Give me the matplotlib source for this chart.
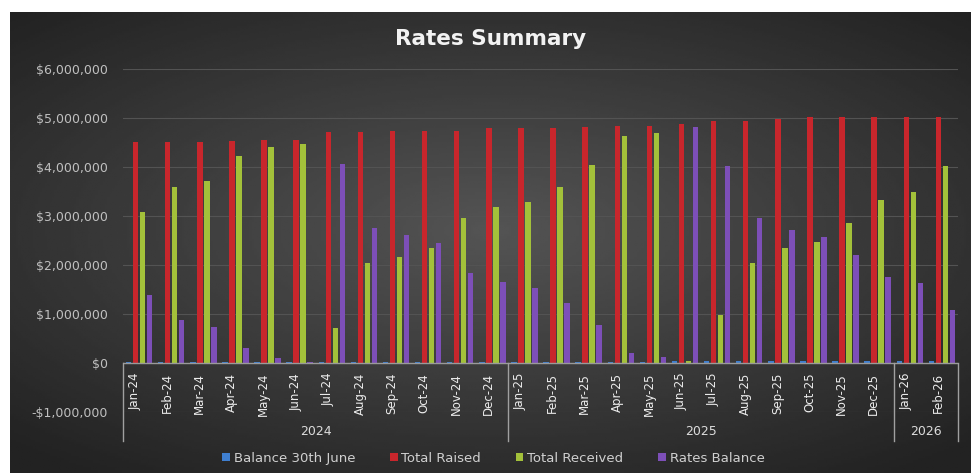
import numpy as np
import matplotlib.pyplot as plt
from matplotlib.patches import Patch
from matplotlib.ticker import FuncFormatter

# month categories and year groups
months = ['Jan-24', 'Feb-24', 'Mar-24', 'Apr-24', 'May-24', 'Jun-24', 'Jul-24', 'Aug-24',
          'Sep-24', 'Oct-24', 'Nov-24', 'Dec-24',
          'Jan-25', 'Feb-25', 'Mar-25', 'Apr-25', 'May-25', 'Jun-25', 'Jul-25', 'Aug-25',
          'Sep-25', 'Oct-25', 'Nov-25', 'Dec-25',
          'Jan-26', 'Feb-26']
years = ['2024', '2025', '2026']
year_counts = [12, 12, 2]

# values in dollars
balance_june = [20000, 20000, 20000, 20000, 20000, 20000, 30000, 30000, 30000, 30000, 30000, 30000,
                30000, 30000, 30000, 30000, 30000, 40000, 50000, 50000, 50000, 50000, 50000, 50000,
                50000, 50000]
total_raised = [4520000, 4520000, 4520000, 4530000, 4550000, 4560000, 4710000, 4710000,
                4730000, 4730000, 4740000, 4800000,
                4800000, 4800000, 4820000, 4840000, 4840000, 4880000, 4940000, 4940000,
                4980000, 5020000, 5020000, 5030000,
                5030000, 5030000]
total_received = [3080000, 3600000, 3720000, 4220000, 4400000, 4470000, 710000, 2040000,
                  2160000, 2340000, 2960000, 3180000,
                  3290000, 3600000, 4040000, 4630000, 4700000, 50000, 980000, 2040000,
                  2350000, 2470000, 2850000, 3330000,
                  3490000, 4020000]
rates_balance = [1390000, 880000, 740000, 300000, 100000, 20000, 4060000, 2750000,
                 2610000, 2450000, 1830000, 1650000,
                 1530000, 1220000, 780000, 200000, 120000, 4820000, 4020000, 2960000,
                 2710000, 2570000, 2200000, 1760000,
                 1630000, 1080000]

series = [('Balance 30th June', balance_june, '#3f7fd0'),
          ('Total Raised', total_raised, '#c8262c'),
          ('Total Received', total_received, '#a3c13a'),
          ('Rates Balance', rates_balance, '#7d4fb8')]

fig = plt.figure(figsize=(9.71, 4.73), dpi=100, facecolor='white')

# dark gradient chart background
bg = fig.add_axes([10/971, 0, 961/971, 461/473])
yy, xx = np.mgrid[-1:1:200j, -1:1:400j]
r = np.sqrt((xx / 1.1)**2 + ((yy + 0.05) / 1.0)**2)
shade = 0.33 - 0.15 * np.clip(r, 0, 1.3)
bg.imshow(shade, cmap='gray', vmin=0, vmax=1, aspect='auto', extent=[0, 1, 0, 1])
bg.set_axis_off()

ax = fig.add_axes([123/971, 61/473, 835/971, 343/473])
ax.set_facecolor('none')

x = np.arange(len(months))
step = 0.218
width = 0.17
for i, (name, vals, col) in enumerate(series):
    ax.bar(x + (i - 1.5) * step, vals, width=width, color=col, zorder=3, label=name)

ax.set_xlim(-0.5, len(months) - 0.5)
ax.set_ylim(-1000000, 6000000)
ax.set_yticks(np.arange(-1000000, 6000001, 1000000))
ax.yaxis.set_major_formatter(FuncFormatter(
    lambda v, p: '$0' if v == 0 else ('-$' if v < 0 else '$') + f'{abs(int(v)):,}'))
ax.tick_params(axis='y', length=0, colors='#c0c0c0', labelsize=9, pad=11)
ax.set_xticks([])
for s in ax.spines.values():
    s.set_visible(False)
ax.grid(axis='y', color='#535353', linewidth=0.8, zorder=0)
ax.axhline(0, color='#9a9a9a', linewidth=1, zorder=4)

# month labels (rotated) under the zero line
for xi, m in zip(x, months):
    ax.text(xi - 0.12, -200000, m, rotation=90, ha='center', va='top', fontsize=8.5,
            color='#ececec', zorder=5)

# year row and separators
start = 0
edges = [-0.5]
for yr, n in zip(years, year_counts):
    mid = start + (n - 1) / 2
    ax.text(mid, -1400000, yr, ha='center', va='center', fontsize=9,
            color='#dcdcdc', clip_on=False)
    start += n
    edges.append(start - 0.5)
for e in edges:
    ax.plot([e, e], [0, -1600000], color='#a0a0a0', linewidth=1, clip_on=False, zorder=4)

fig.text(0.505, 0.918, 'Rates Summary', ha='center', va='center', fontsize=15.5,
         fontweight='bold', color='#f2f2f2')

handles = [Patch(facecolor=c, edgecolor='none', label=n) for n, v, c in series]
fig.legend(handles=handles, loc='center', bbox_to_anchor=(0.508, 0.031), ncol=4,
           frameon=False, fontsize=9.5, labelcolor='#d0d0d0', handlelength=0.6,
           handleheight=0.6, handletextpad=0.3, columnspacing=2.6)

fig.savefig('out.png', dpi=100, facecolor='white')
